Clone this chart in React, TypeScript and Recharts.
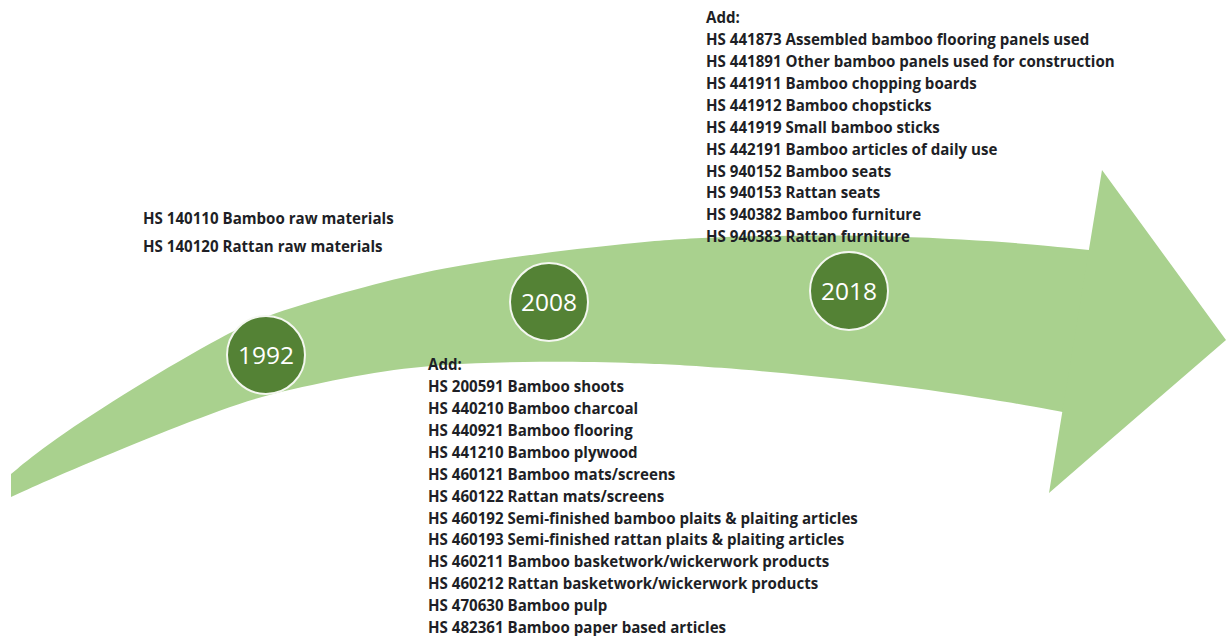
import React from "react";
import { ComposedChart, Area, Scatter, XAxis, YAxis } from "recharts";

const W = 1226;
const H = 636;

// arrow shaft outline (x in picture units, top / bottom edge)
const shaftX = [11, 50, 133, 227, 277, 367, 440, 540, 640, 707, 860, 1000, 1089];
const shaftTop = [474, 442, 388, 333, 311, 286, 268, 253, 242, 237, 234, 241, 250];
const shaftBottom = [497, 479, 444, 407, 392, 373, 364, 361, 363, 366, 380, 400, 417];

// arrow head triangle
const headX = [1049, 1102, 1226];
const headTop = [493, 170, 340];
const headBottom = [493, 447, 340];

const years = [1992, 2008, 2018];
const yearX = [266, 549, 849];
const yearY = [355, 302, 291];

const rawMaterials = [
  "HS 140110 Bamboo raw materials",
  "HS 140120 Rattan raw materials",
];

const added2008 = [
  "Add:",
  "HS 200591 Bamboo shoots",
  "HS 440210 Bamboo charcoal",
  "HS 440921 Bamboo flooring",
  "HS 441210 Bamboo plywood",
  "HS 460121 Bamboo mats/screens",
  "HS 460122 Rattan mats/screens",
  "HS 460192 Semi-finished bamboo plaits & plaiting articles",
  "HS 460193 Semi-finished rattan plaits & plaiting articles",
  "HS 460211 Bamboo basketwork/wickerwork products",
  "HS 460212 Rattan basketwork/wickerwork products",
  "HS 470630 Bamboo pulp",
  "HS 482361 Bamboo paper based articles",
];

const added2018 = [
  "Add:",
  "HS 441873 Assembled bamboo flooring panels used",
  "HS 441891 Other bamboo panels used for construction",
  "HS 441911 Bamboo chopping boards",
  "HS 441912 Bamboo chopsticks",
  "HS 441919 Small bamboo sticks",
  "HS 442191 Bamboo articles of daily use",
  "HS 940152 Bamboo seats",
  "HS 940153 Rattan seats",
  "HS 940382 Bamboo furniture",
  "HS 940383 Rattan furniture",
];

const shaftData = shaftX.map((x, i) => ({ x, range: [shaftBottom[i], shaftTop[i]] }));
const headData = headX.map((x, i) => ({ x, range: [headBottom[i], headTop[i]] }));
const milestones = years.map((year, i) => ({ x: yearX[i], y: yearY[i], year }));

// text blocks anchored at the first line's centre
const notes = [
  { x: 143, y: 219, gap: 28, lines: rawMaterials },
  { x: 428, y: 365, gap: 21.9, lines: added2008 },
  { x: 706, y: 18, gap: 21.9, lines: added2018 },
];

const GREEN = "#a9d18e";
const DARK = "#548235";
const TEXT = "#1e1f26";

const YearBadge = (props: any) => {
  const { cx, cy, payload } = props;
  return (
    <g>
      <circle cx={cx} cy={cy} r={39} fill={DARK} stroke="#f4f7f0" strokeWidth={2} />
      <text
        x={cx}
        y={cy + 8.5}
        textAnchor="middle"
        fill="#ffffff"
        fontSize={24.5}
        fontFamily="'Open Sans', sans-serif"
      >
        {payload.year}
      </text>
    </g>
  );
};

const NoteBlock = (props: any) => {
  const { cx, cy, payload } = props;
  return (
    <g>
      {payload.lines.map((line: string, i: number) => (
        <text
          key={i}
          x={cx}
          y={cy + i * payload.gap + 5.2}
          fill={TEXT}
          fontSize={15.1}
          fontWeight={700}
          fontFamily="'Open Sans', sans-serif"
        >
          {line}
        </text>
      ))}
    </g>
  );
};

export default function App() {
  return (
    <div style={{ position: "absolute", left: 0, top: 0, width: W, height: H, background: "#fff" }}>
      <ComposedChart width={W} height={H} margin={{ top: 0, right: 0, bottom: 0, left: 0 }}>
        <XAxis type="number" dataKey="x" domain={[0, W]} hide allowDataOverflow />
        <YAxis type="number" domain={[0, H]} reversed hide allowDataOverflow />
        <Area
          data={shaftData}
          dataKey="range"
          type="basis"
          fill={GREEN}
          fillOpacity={1}
          stroke="none"
          dot={false}
          activeDot={false}
          isAnimationActive={false}
        />
        <Area
          data={headData}
          dataKey="range"
          type="linear"
          fill={GREEN}
          fillOpacity={1}
          stroke="none"
          dot={false}
          activeDot={false}
          isAnimationActive={false}
        />
        <Scatter data={notes} dataKey="y" shape={NoteBlock} isAnimationActive={false} />
        <Scatter data={milestones} dataKey="y" shape={YearBadge} isAnimationActive={false} />
      </ComposedChart>
    </div>
  );
}
